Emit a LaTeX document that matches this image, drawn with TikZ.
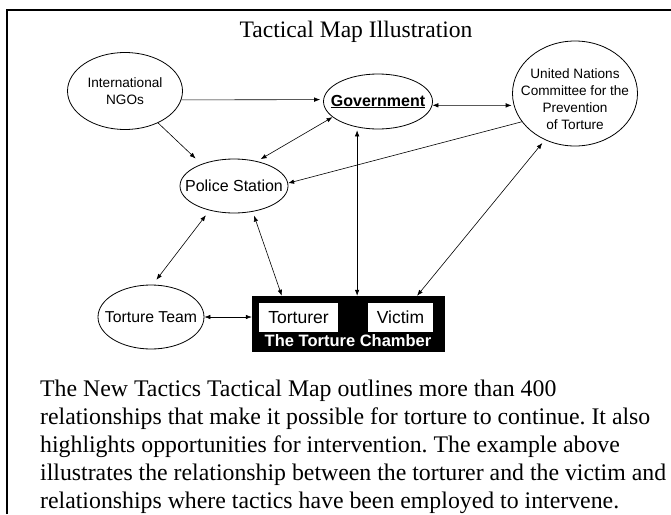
\documentclass[tikz,border=0pt]{standalone}
\usepackage{fontspec}
\setmainfont{Liberation Serif}
\setsansfont{Liberation Sans}
\usetikzlibrary{arrows.meta,calc,shapes.geometric}
\frenchspacing
\begin{document}
\begin{tikzpicture}[x=1pt,y=-1pt,
  ell/.style={draw,ellipse,line width=0.8pt,inner sep=0pt},
  conn/.style={line width=0.6pt,{Latex[length=6pt,width=4.5pt]}-{Latex[length=6pt,width=4.5pt]}},
  one/.style={line width=0.6pt,-{Latex[length=6pt,width=4.5pt]}},
  small/.style={font=\sffamily\fontsize{13.6}{17}\selectfont,align=center,inner sep=0pt},
  mid/.style={font=\sffamily\fontsize{16}{18}\selectfont,align=center,inner sep=0pt},
  govlbl/.style={font=\sffamily\bfseries\fontsize{16}{18}\selectfont,align=center,inner sep=0pt},
  boxlbl/.style={fill=white,inner sep=0pt,font=\sffamily\fontsize{17.5}{18}\selectfont},
  serifline/.style={anchor=base west,inner sep=0pt,font=\fontsize{23.8}{28}\selectfont},
]
\useasboundingbox (0,0) rectangle (671,514);
\fill[white] (0,0) rectangle (671,514);
\draw[line width=1.2pt] (7,514) -- (7,10) -- (671,10);

\node[anchor=base,inner sep=0pt,font=\fontsize{23.6}{28}\selectfont] (title) at (356,37) {Tactical Map Illustration};

\node[ell,minimum width=115pt,minimum height=77pt,
      label={[small]center:{International\\NGOs}}] (ngo) at (125,91) {};
\node[ell,minimum width=109pt,minimum height=55pt,
      label={[govlbl]center:{\underline{Government}}}] (gov) at (378,101.5) {};
\node[ell,minimum width=125pt,minimum height=105pt,
      label={[small,yshift=-6pt]center:{United Nations\\Committee for the\\Prevention\\of Torture}}] (un) at (575,93.5) {};
\node[ell,minimum width=108pt,minimum height=54pt,
      label={[mid]center:{Police Station}}] (police) at (234,186) {};
\node[ell,minimum width=106pt,minimum height=64pt,
      label={[mid,font=\sffamily\fontsize{15.8}{18}\selectfont]center:{Torture Team}}] (team) at (151,317) {};

\node[draw=black,fill=black,inner sep=0pt,minimum width=192pt,minimum height=55pt] (chamber) at (348,323.5) {};
\node[boxlbl,minimum width=79pt,minimum height=29pt] (torturer) at (298.5,317.5) {Torturer};
\node[boxlbl,minimum width=65pt,minimum height=29pt] (victim) at (400.5,317.5) {Victim};
\node[anchor=base,inner sep=0pt,text=white,font=\sffamily\bfseries\fontsize{16.5}{18}\selectfont] (chamberlbl) at (348,346) {The Torture Chamber};

\draw[one,shorten >=3pt] (ngo.-9) -- (gov.178);
\draw[one,shorten >=8pt] (ngo.-44) -- (police.146);
\draw[conn,shorten <=4pt] (police.47) -- (gov.-161.4);
\draw[conn,shorten >=2pt] (gov.-4.7) -- (un.191);
\draw[one] (un.208) -- (police.3);
\draw[conn,shorten <=3pt] (gov.-129.6) -- (gov.-129.6 |- chamber.north);
\draw[conn,shorten <=4pt] (un.-123.7) -- ($(chamber.north west)!0.859!(chamber.north east)$);
\draw[conn,shorten <=6pt,shorten >=6pt] (police.-135) -- (team.87);
\draw[conn,shorten <=4pt] (police.-54) -- ($(chamber.north west)!0.156!(chamber.north east)$);
\draw[conn] (team.east) -- (chamber.west |- team.east);

\node[serifline] (p1) at (40,396) {The New Tactics Tactical Map outlines more than 400};
\node[serifline] (p2) at (40,424) {relationships that make it possible for torture to continue. It also};
\node[serifline] (p3) at (40,452) {highlights opportunities for intervention. The example above};
\node[serifline] (p4) at (40,480) {illustrates the relationship between the torturer and the victim and};
\node[serifline] (p5) at (40,508) {relationships where tactics have been employed to intervene.};
\end{tikzpicture}
\end{document}
